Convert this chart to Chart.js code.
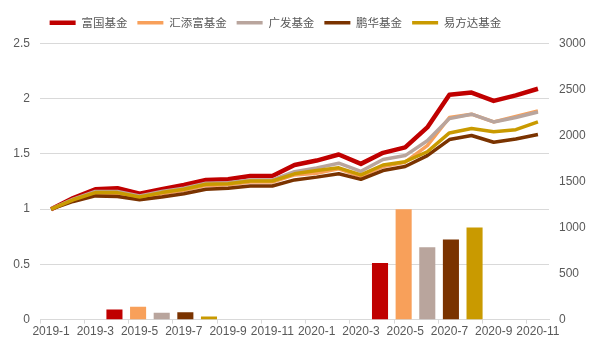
<!DOCTYPE html>
<html>
<head>
<meta charset="utf-8">
<script src="https://cdn.jsdelivr.net/npm/chart.js@4/dist/chart.umd.min.js"></script>
<style>
html,body{margin:0;padding:0;background:#fff;}
#wrap{position:relative;width:590px;height:356px;}
</style>
</head>
<body>
<div id="wrap"><canvas id="c"></canvas></div>
<script>
// categories (months)
const months = ['2019-1','2019-2','2019-3','2019-4','2019-5','2019-6','2019-7','2019-8','2019-9','2019-10','2019-11','2019-12',
                '2020-1','2020-2','2020-3','2020-4','2020-5','2020-6','2020-7','2020-8','2020-9','2020-10','2020-11'];
const seriesNames = ['富国基金','汇添富基金','广发基金','鹏华基金','易方达基金'];
const seriesColors = ['#C00000','#F8A05A','#B9A59D','#7A3300','#C99A00'];

// line series (left axis)
const fuguo   = [1.00,1.10,1.18,1.19,1.14,1.18,1.22,1.265,1.27,1.30,1.30,1.40,1.44,1.495,1.41,1.51,1.56,1.74,2.035,2.056,1.98,2.03,2.09];
const huitianfu = [1.00,1.08,1.14,1.145,1.10,1.14,1.17,1.215,1.22,1.245,1.245,1.31,1.325,1.365,1.295,1.386,1.425,1.576,1.83,1.86,1.79,1.84,1.89];
const guangfa = [1.00,1.09,1.16,1.16,1.12,1.16,1.19,1.235,1.24,1.265,1.265,1.34,1.374,1.416,1.343,1.45,1.485,1.62,1.82,1.86,1.79,1.83,1.88];
const penghua = [1.00,1.07,1.12,1.115,1.085,1.11,1.14,1.18,1.19,1.21,1.21,1.265,1.29,1.32,1.27,1.35,1.386,1.485,1.63,1.667,1.606,1.636,1.676];
const yifangda = [1.00,1.085,1.15,1.15,1.11,1.15,1.18,1.225,1.23,1.255,1.255,1.32,1.35,1.374,1.31,1.40,1.43,1.52,1.69,1.73,1.70,1.72,1.79];
const lineSeries = [fuguo, huitianfu, guangfa, penghua, yifangda];

// bar series (right axis), placed at these months
const barMonths = ['2019-6','2020-6'];
const fuguoBar = [110, 615];
const huitianfuBar = [140, 1200];
const guangfaBar = [75, 785];
const penghuaBar = [80, 870];
const yifangdaBar = [35, 1000];
const barSeries = [fuguoBar, huitianfuBar, guangfaBar, penghuaBar, yifangdaBar];

// tick labels
const leftTicks = [0, 0.5, 1, 1.5, 2, 2.5];
const rightTicks = [0, 500, 1000, 1500, 2000, 2500, 3000];

function barData(vals){
  const d = months.map(() => null);
  barMonths.forEach((m, i) => { d[months.indexOf(m)] = vals[i]; });
  return d;
}

const datasets = [];
lineSeries.forEach((s, i) => {
  datasets.push({
    type: 'line', label: seriesNames[i], data: s, yAxisID: 'y', xAxisID: 'x',
    borderColor: seriesColors[i], backgroundColor: seriesColors[i],
    borderWidth: i === 0 ? 4.5 : 3.5, pointRadius: 0, tension: 0,
    borderJoinStyle: 'round', order: -i
  });
});
barSeries.forEach((s, i) => {
  datasets.push({
    type: 'bar', label: seriesNames[i] + ' ', data: barData(s), yAxisID: 'y2', xAxisID: 'x',
    backgroundColor: seriesColors[i], borderWidth: 0,
    categoryPercentage: 5.34, barPercentage: 0.68, order: 10
  });
});

const tickFont = {family: '"Liberation Sans", Arial, sans-serif', size: 12};
const legendShift = {
  id: 'legendShift',
  afterLayout(chart){
    const lg = chart.legend;
    if (lg){ lg.left -= 24; lg.right -= 24; lg.top -= 5; lg.bottom -= 5; }
  }
};

new Chart(document.getElementById('c'), {
  type: 'line',
  data: {labels: months, datasets},
  plugins: [legendShift],
  options: {
    responsive: true, maintainAspectRatio: false, animation: false,
    layout: {padding: {left: 13, right: 4, top: 12, bottom: 16}},
    plugins: {
      tooltip: {enabled: false},
      legend: {
        position: 'top',
        labels: {
          filter: (item) => item.datasetIndex < 5,
          sort: (a, b) => a.datasetIndex - b.datasetIndex,
          usePointStyle: true, pointStyle: 'line', pointStyleWidth: 26,
          color: '#595959', padding: 10,
          font: {family: '"Noto Sans CJK SC", sans-serif', size: 11.5}
        }
      }
    },
    scales: {
      x: {
        type: 'category', offset: true,
        afterFit: (s) => { s.paddingLeft = 0; s.paddingRight = 0; },
        grid: {offset: true, drawOnChartArea: false, drawTicks: true, tickLength: 4,
               color: (ctx) => (ctx.index % 2 === 0 ? '#D9D9D9' : 'rgba(0,0,0,0)')},
        border: {display: true, color: '#D9D9D9'},
        ticks: {autoSkip: false, maxRotation: 0, minRotation: 0, padding: 1, color: '#595959', font: tickFont,
                callback: function(v, i){ return i % 2 === 0 ? this.getLabelForValue(v) : ''; }}
      },
      y: {
        position: 'left', min: leftTicks[0], max: leftTicks[leftTicks.length - 1],
        afterBuildTicks: (axis) => { axis.ticks = leftTicks.map(v => ({value: v})); },
        afterFit: (axis) => { axis.width = 27; },
        grid: {color: '#D9D9D9', drawTicks: false},
        border: {display: false},
        ticks: {padding: 10, color: '#595959', font: tickFont, callback: (v) => String(v)}
      },
      y2: {
        position: 'right', min: rightTicks[0], max: rightTicks[rightTicks.length - 1],
        afterBuildTicks: (axis) => { axis.ticks = rightTicks.map(v => ({value: v})); },
        afterFit: (axis) => { axis.width = 37; },
        grid: {display: false, drawTicks: false},
        border: {display: false},
        ticks: {padding: 10, color: '#595959', font: tickFont, callback: (v) => String(v)}
      }
    }
  }
});
</script>
</body>
</html>
